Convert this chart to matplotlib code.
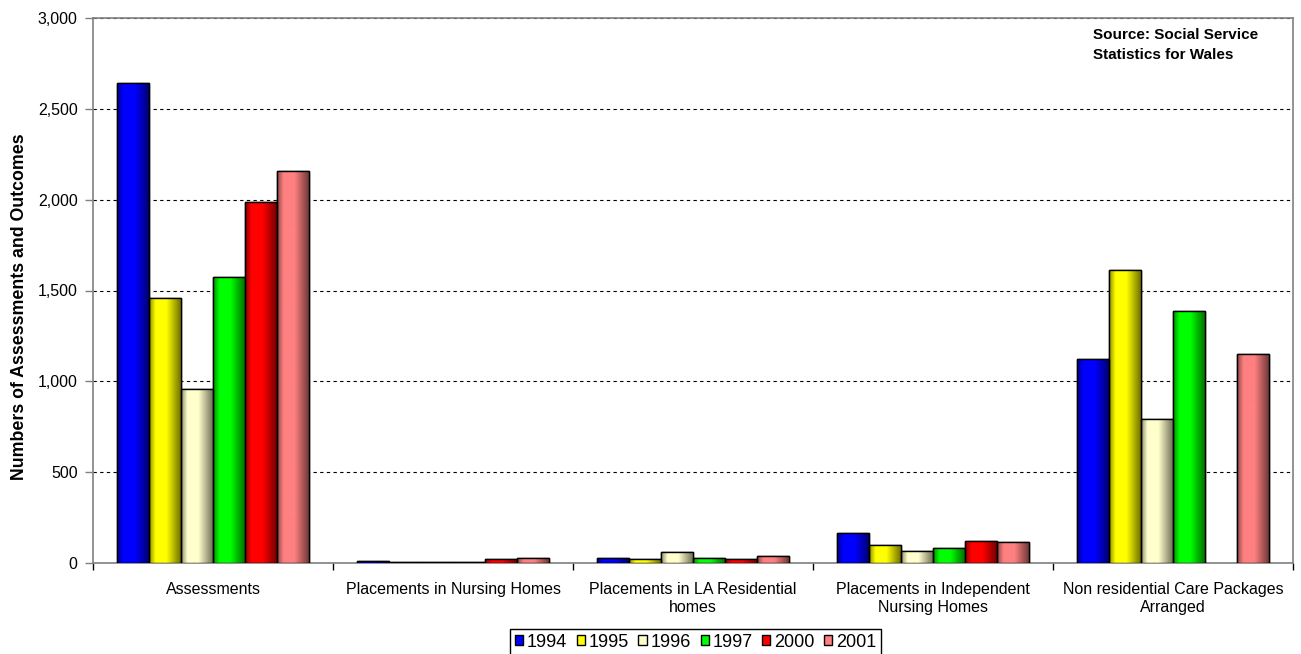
import numpy as np
import matplotlib.pyplot as plt
from matplotlib.ticker import FuncFormatter, FixedLocator
from matplotlib.colors import to_rgb

plt.rcParams['font.family'] = ['Liberation Sans', 'DejaVu Sans']

categories = ["Assessments", "Placements in Nursing Homes",
              "Placements in LA Residential\nhomes",
              "Placements in Independent\nNursing Homes",
              "Non residential Care Packages\nArranged"]
years = ["1994", "1995", "1996", "1997", "2000", "2001"]
colors = ["#0000FF", "#FFFF00", "#FFFFCC", "#00FF00", "#FF0000", "#FF8080"]

v1994 = [2640, 11, 29, 167, 1125]
v1995 = [1460, 3, 20, 101, 1612]
v1996 = [960, 3, 61, 66, 794]
v1997 = [1572, 3, 29, 83, 1388]
v2000 = [1989, 24, 20, 123, np.nan]
v2001 = [2156, 29, 40, 116, 1150]
series = [v1994, v1995, v1996, v1997, v2000, v2001]

fig = plt.figure(figsize=(13.01, 6.54), dpi=100)
ax = fig.add_axes([93 / 1301, 1 - 563 / 654, 1200 / 1301, 545 / 654])

x = np.arange(len(categories))
w = 0.8 / len(years)

# shading profile across a bar (dark edges, bright left-centre)
prof_x = np.linspace(0, 1, 64)
prof = np.interp(prof_x, [0, 0.2, 0.55, 1.0], [0.55, 1.0, 1.0, 0.45])

for i, (yr, vals, c) in enumerate(zip(years, series, colors)):
    pos = x - 0.4 + w * i + w / 2
    bars = ax.bar(pos, vals, w, color=c, edgecolor='black', linewidth=1.0,
                  label=yr, zorder=3)
    rgb = np.array(to_rgb(c))
    img = (prof[:, None] * rgb[None, :])[None, :, :]
    for b in bars:
        h = b.get_height()
        if not np.isfinite(h) or h <= 0:
            continue
        x0 = b.get_x()
        im = ax.imshow(img, extent=[x0, x0 + b.get_width(), 0, h],
                       aspect='auto', zorder=3.5, interpolation='bilinear')
        im.set_clip_path(b)
        ax.add_patch(plt.Rectangle((x0, 0), b.get_width(), h, fill=False,
                                   edgecolor='black', linewidth=1.0, zorder=4))

ax.set_xlim(-0.5, len(categories) - 0.5)
ax.set_ylim(0, 3000)
ax.set_yticks(np.arange(0, 3001, 500))
ax.yaxis.set_major_formatter(FuncFormatter(lambda v, p: f"{int(v):,}"))
ax.yaxis.grid(True, color='black', linestyle=(0, (3, 3)), linewidth=0.8)
ax.set_axisbelow(True)

ax.xaxis.set_major_locator(FixedLocator(np.arange(-0.5, len(categories), 1.0)))
ax.xaxis.set_major_formatter(FuncFormatter(lambda v, p: ""))
ax.xaxis.set_minor_locator(FixedLocator(x))
ax.set_xticklabels(categories, minor=True)
ax.tick_params(axis='x', which='major', length=5, color='black', width=1)
ax.tick_params(axis='x', which='minor', length=0, pad=14, labelsize=11.5, labelcolor='#000000')
ax.tick_params(axis='y', length=6, color='#808080', width=1, pad=5, labelsize=11.5)

for s in ax.spines.values():
    s.set_color('#808080')
    s.set_linewidth(1.2)

ax.set_ylabel("Numbers of Assessments and Outcomes", fontsize=12.8,
              fontweight='bold')
ax.yaxis.set_label_coords(-0.054, 0.47)

ax.text(0.833, 0.981, "Source: Social Service\nStatistics for Wales",
        transform=ax.transAxes, ha='left', va='top', fontsize=11,
        fontweight='bold', linespacing=1.5)

leg = fig.legend(loc='upper center', bbox_to_anchor=(695.5 / 1301, 1 - 629 / 654),
                 ncol=6, fontsize=13, frameon=True, fancybox=False,
                 edgecolor='black', framealpha=1, handlelength=0.45,
                 handleheight=0.45, handletextpad=0.2, columnspacing=0.55,
                 borderpad=0.25, borderaxespad=0)
leg.get_frame().set_linewidth(1.0)

fig.savefig("out.png", dpi=100)
